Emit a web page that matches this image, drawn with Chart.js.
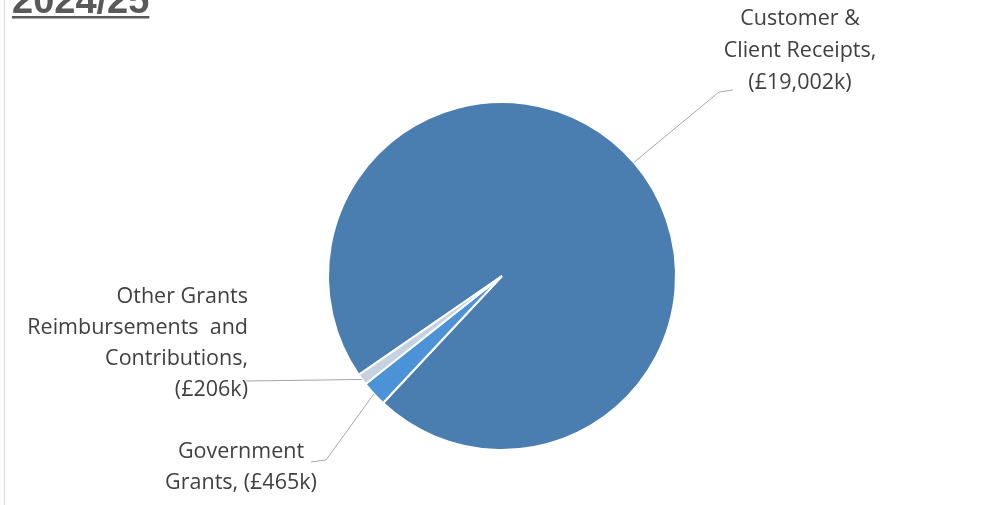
<!DOCTYPE html>
<html>
<head>
<meta charset="utf-8">
<script src="https://cdn.jsdelivr.net/npm/chart.js@4.4.1/dist/chart.umd.min.js"></script>
<style>
  html, body { margin: 0; padding: 0; background: #fff; }
  #wrap { position: relative; width: 982px; height: 505px; }
</style>
</head>
<body>
<div id="wrap"><canvas id="pieChart" width="982" height="505"></canvas></div>
<script>
// Data
const chartTitle = '2024/25';
const categories = ['Customer & Client Receipts', 'Government Grants', 'Other Grants Reimbursements and Contributions'];
const values = [19002, 465, 206];
const labelNames = [['Customer &', 'Client Receipts,'], ['Government', 'Grants,'], ['Other Grants', 'Reimbursements  and', 'Contributions,']];
const sliceColors = ['#4a7eb0', '#4b92d6', '#c4d2e2'];

const fmt = v => `(£${v.toLocaleString('en-GB')}k)`;

// label text lines, built from names + values
function labelText(i) {
    const lines = labelNames[i].slice();
    if (i === 1) lines[1] = lines[1] + ' ' + fmt(values[i]);
    else lines.push(fmt(values[i]));
    return lines;
}

// where each label sits and how its leader bends (layout only)
const labelLayout = [
    { x: 800, y: 19, gap: 32, align: 'center', elbow: [719, 92], end: [733, 90] },
    { x: 241, y: 452, gap: 31, align: 'center', elbow: [326, 460], end: [311, 462] },
    { x: 248, y: 297, gap: 31, align: 'right', elbow: null, end: [246, 381] }
];

const FONT = '"Open Sans", "Liberation Sans", sans-serif';

const labelPlugin = {
    id: 'calloutLabels',
    afterDraw(chart) {
        const ctx = chart.ctx;
        const arcs = chart.getDatasetMeta(0).data;
        ctx.save();

        // frame edge on the left
        ctx.strokeStyle = '#d9d9d9';
        ctx.lineWidth = 1;
        ctx.beginPath();
        ctx.moveTo(4.5, 0);
        ctx.lineTo(4.5, 505);
        ctx.stroke();

        // title
        ctx.fillStyle = '#595959';
        ctx.font = `bold 38px "Liberation Sans", sans-serif`;
        ctx.textAlign = 'left';
        ctx.textBaseline = 'alphabetic';
        ctx.fillText(chartTitle, 12, 13);
        const tw = ctx.measureText(chartTitle).width;
        ctx.fillRect(12, 16, tw, 2.5);

        arcs.forEach((arc, i) => {
            const p = arc.getProps(['x', 'y', 'startAngle', 'endAngle', 'outerRadius'], true);
            const mid = (p.startAngle + p.endAngle) / 2;
            const sx = p.x + Math.cos(mid) * p.outerRadius;
            const sy = p.y + Math.sin(mid) * p.outerRadius;
            const L = labelLayout[i];

            ctx.strokeStyle = '#a6a6a6';
            ctx.lineWidth = 1;
            ctx.beginPath();
            ctx.moveTo(sx, sy);
            if (L.elbow) ctx.lineTo(L.elbow[0], L.elbow[1]);
            ctx.lineTo(L.end[0], L.end[1]);
            ctx.stroke();

            ctx.fillStyle = '#404040';
            ctx.font = `21.5px ${FONT}`;
            ctx.textAlign = L.align;
            ctx.textBaseline = 'middle';
            labelText(i).forEach((t, k) => ctx.fillText(t, L.x, L.y + k * L.gap));
        });
        ctx.restore();
    }
};

new Chart(document.getElementById('pieChart'), {
    type: 'pie',
    data: {
        labels: categories,
        datasets: [{
            data: values,
            backgroundColor: sliceColors,
            borderColor: '#ffffff',
            borderWidth: 2
        }]
    },
    options: {
        responsive: false,
        animation: false,
        rotation: 235.4,
        layout: { padding: { left: 327, right: 305, top: 101, bottom: 54 } },
        plugins: {
            legend: { display: false },
            tooltip: { enabled: false },
            title: { display: false }
        }
    },
    plugins: [labelPlugin]
});
</script>
</body>
</html>
